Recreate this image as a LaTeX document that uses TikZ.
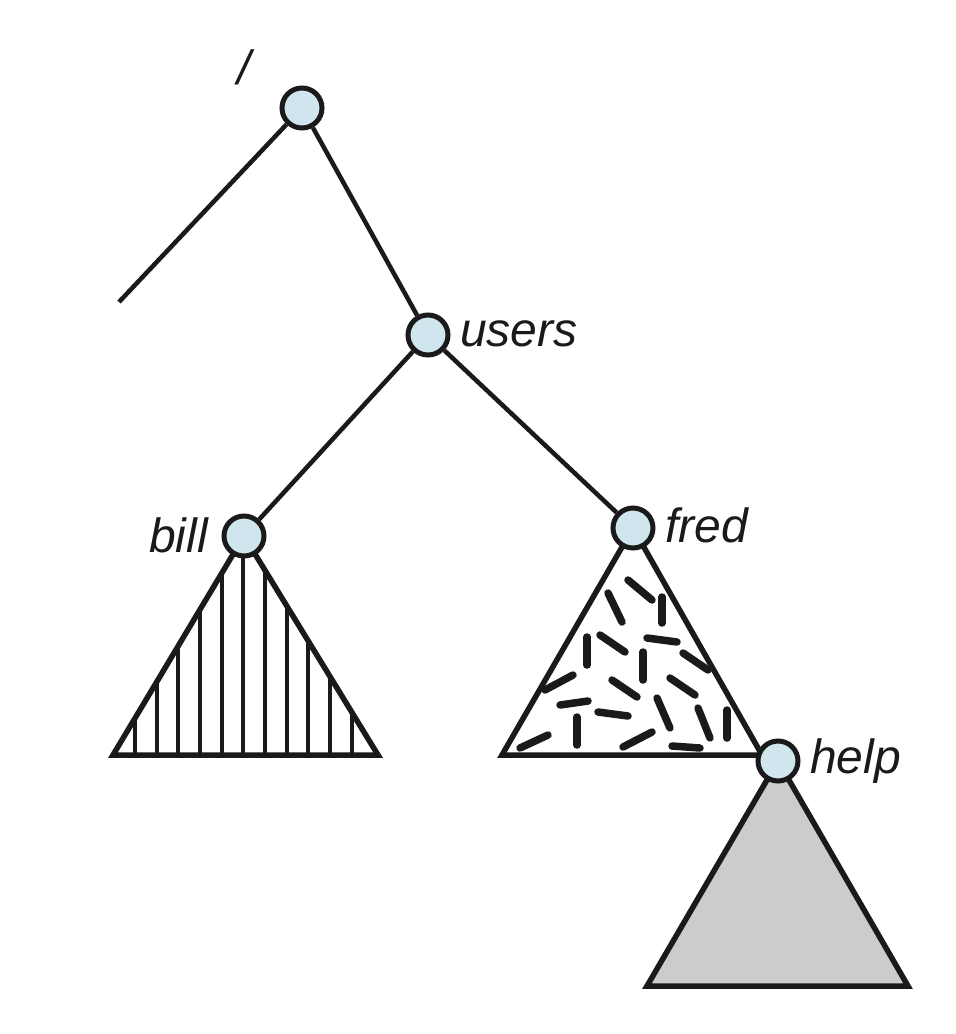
\documentclass[tikz,border=0pt]{standalone}
\usepackage{fontspec}
\setmainfont{Liberation Sans}
\definecolor{nodeblue}{HTML}{D0E6EF}
\definecolor{ink}{HTML}{1A1A1A}
\definecolor{helpgray}{HTML}{CCCCCC}
\begin{document}
\begin{tikzpicture}[x=1pt,y=-1pt,
  dirnode/.style={circle,draw=ink,fill=nodeblue,line width=5pt,minimum size=40pt,inner sep=0pt},
  edge/.style={draw=ink,line width=4.5pt},
  tri/.style={draw=ink,line width=5.5pt,line join=miter},
  hatch/.style={draw=ink,line width=4pt},
  dashstroke/.style={draw=ink,line width=7.5pt,line cap=round},
  lbl/.style={font=\fontsize{48}{52}\selectfont\itshape,inner sep=0pt,text=ink}]
\useasboundingbox (0,0) rectangle (956,1034);
% coordinates
\coordinate (rootc) at (302,108);
\coordinate (usersc) at (428,335);
\coordinate (billc) at (244,536);
\coordinate (fredc) at (633,528);
\coordinate (helpc) at (778,761);
\coordinate (leftend) at (119,302);
% bill triangle with vertical hatching
\coordinate (bl1) at (113,755);
\coordinate (bl2) at (378,755);
\begin{scope}
  \clip (billc) -- (bl1) -- (bl2) -- cycle;
  \foreach \x in {135,157,178,200,222,243,265,287,308,330,352}
    \draw[hatch] (\x,500) -- (\x,760);
\end{scope}
\draw[tri] (billc) -- (bl1) -- (bl2) -- cycle;
% fred triangle with random dashes
\coordinate (fl1) at (502,755);
\coordinate (fl2) at (762,755);
\draw[tri,fill=white] (fredc) -- (fl1) -- (fl2) -- cycle;
\foreach \a/\b/\c/\d in {628/580/652/600, 608/593/622/622, 662/597/662/623,
  587/637/587/665, 600/635/625/652, 647/638/677/642, 683/653/708/670,
  643/652/643/680, 545/690/573/675, 612/680/637/697, 670/678/695/695,
  560/705/588/701, 598/712/628/716, 657/698/670/728, 698/708/710/738,
  727/710/727/738, 577/717/577/745, 520/748/548/735, 623/747/652/732,
  672/746/700/748}
  \draw[dashstroke] (\a,\b) -- (\c,\d);
% help triangle
\coordinate (hl1) at (647,986);
\coordinate (hl2) at (908,986);
\draw[tri,fill=helpgray] (helpc) -- (hl1) -- (hl2) -- cycle;
% nodes
\node[dirnode] (root) at (rootc) {};
\node[dirnode] (users) at (usersc) {};
\node[dirnode] (bill) at (billc) {};
\node[dirnode] (fred) at (fredc) {};
\node[dirnode] (help) at (helpc) {};
% edges
\draw[edge] (root) -- (leftend);
\draw[edge] (root) -- (users);
\draw[edge] (users) -- (bill);
\draw[edge] (users) -- (fred);
% labels
\node[lbl,anchor=base west] (lroot) at (237,84) {/};
\node[lbl,anchor=base west] (lusers) at (460,346) {users};
\node[lbl,anchor=base east] (lbill) at (208,552) {bill};
\node[lbl,anchor=base west] (lfred) at (665,542) {fred};
\node[lbl,anchor=base west] (lhelp) at (810,773) {help};
\end{tikzpicture}
\end{document}
